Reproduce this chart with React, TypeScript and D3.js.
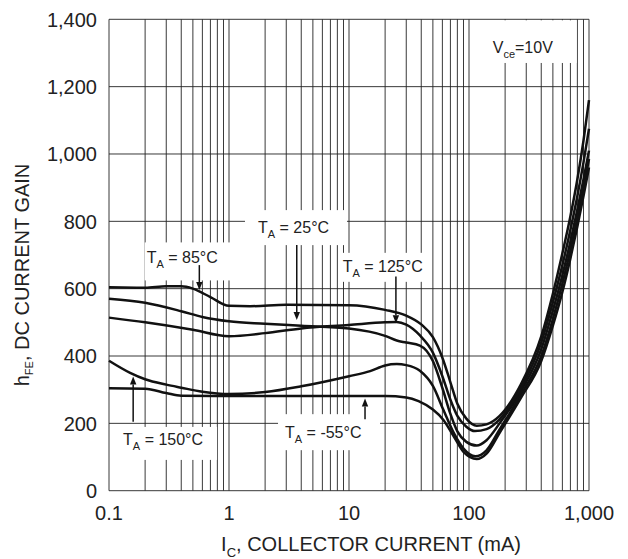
import * as d3 from 'd3';

type Pt = [number, number]; // [collector current mA, hFE]

const xTickValues = [0.1, 1, 10, 100, 1000];
const yTickValues = [0, 200, 400, 600, 800, 1000, 1200, 1400];

// T_A = 85°C
const gain85: Pt[] = [
  [0.1, 604], [0.2, 603], [0.3, 607], [0.4, 607], [0.5, 600], [0.7, 575], [1, 549], [1.5, 548],
  [3, 552], [10, 551], [20, 537], [30, 520], [40, 494], [50, 456], [60, 395], [70, 322], [80, 258],
  [95, 214], [116, 193], [140, 197], [180, 222], [270, 315], [400, 458], [500, 585], [600, 705],
  [700, 815], [800, 925], [900, 1040], [1000, 1160],
];
// T_A = 25°C
const gain25: Pt[] = [
  [0.1, 570], [0.2, 558], [0.4, 533], [0.6, 516], [1, 503], [2, 496], [4, 490], [10, 482],
  [20, 460], [25, 446], [30, 440], [39, 431], [50, 385], [60, 305], [70, 228], [80, 176],
  [95, 145], [116, 134], [140, 150], [180, 200], [270, 295], [400, 420], [500, 535], [600, 640],
  [700, 740], [800, 835], [900, 925], [1000, 1010],
];
// T_A = 125°C
const gain125: Pt[] = [
  [0.1, 514], [0.2, 500], [0.5, 478], [1, 459], [2, 468], [4, 482], [10, 492], [20, 500],
  [25, 501], [30, 493], [39, 461], [50, 410], [60, 340], [70, 270], [80, 222], [95, 190],
  [112, 177], [140, 183], [180, 212], [270, 305], [400, 440], [500, 560], [600, 670], [700, 775],
  [800, 875], [900, 975], [1000, 1075],
];
// T_A = 150°C
const gain150: Pt[] = [
  [0.1, 386], [0.15, 350], [0.2, 331], [0.3, 315], [0.4, 306], [0.6, 294], [1, 287], [2, 293],
  [4, 310], [10, 340], [15, 355], [20, 372], [25, 376], [30, 373], [39, 356], [50, 311], [61, 241],
  [75, 170], [90, 125], [113, 102], [140, 120], [180, 182], [270, 285], [400, 400], [500, 510],
  [600, 615], [700, 715], [800, 810], [900, 900], [1000, 985],
];
// T_A = -55°C
const gainMinus55: Pt[] = [
  [0.1, 304], [0.2, 303], [0.3, 290], [0.4, 282], [1, 281], [3, 281], [10, 281], [20, 281],
  [30, 277], [38, 266], [50, 241], [61, 211], [75, 160], [90, 115], [116, 94], [140, 110],
  [180, 172], [270, 275], [400, 385], [500, 490], [600, 590], [700, 690], [800, 785], [900, 875],
  [1000, 960],
];

const series = [gain85, gain25, gain125, gain150, gainMinus55];

// temperature callouts: label anchor and arrow in data units
const callouts = [
  { temp: '85°C', at: [0.206, 675] as Pt, arrowX: 0.566, arrowFrom: 670, arrowTo: 596 },
  { temp: '25°C', at: [1.744, 765] as Pt, arrowX: 3.67, arrowFrom: 730, arrowTo: 507 },
  { temp: '125°C', at: [8.86, 650] as Pt, arrowX: 24.6, arrowFrom: 636, arrowTo: 497 },
  { temp: '150°C', at: [0.131, 136] as Pt, arrowX: 0.159, arrowFrom: 205, arrowTo: 339 },
  { temp: '-55°C', at: [2.93, 156] as Pt, arrowX: 13.6, arrowFrom: 212, arrowTo: 274 },
];
// white boxes behind callouts [dx, dy, w, h] relative to text anchor
const calloutBoxes = [
  [-2, -21, 87, 38],
  [-13, -23, 102, 35],
  [-3, -19, 84, 29],
  [-5, -18, 99, 33],
  [-7, -24, 102, 36],
];
const vceAt: Pt = [157.6, 1300];

const W = 628;
const H = 559;
const PLOT = { left: 109, right: 589, top: 19.3, bottom: 490.7 };
const FONT = "'Liberation Sans', Arial, Helvetica, sans-serif";

export default function App() {
  const x = d3.scaleLog().domain([0.1, 1000]).range([PLOT.left, PLOT.right]);
  const y = d3.scaleLinear().domain([0, 1400]).range([PLOT.bottom, PLOT.top]);
  const fmt = d3.format(',');

  const line = d3.line<Pt>()
    .x((d) => x(d[0]))
    .y((d) => y(d[1]))
    .curve(d3.curveMonotoneX);

  const gridX = x.ticks();

  return (
    <svg
      width={W}
      height={H}
      style={{ position: 'absolute', left: 0, top: 0, background: '#fff' }}
      fontFamily={FONT}
    >
      <rect width={W} height={H} fill="#fff" />

      {/* grid */}
      <g stroke="#222" strokeWidth={0.9}>
        {gridX.map((v) => (
          <line key={'gx' + v} x1={x(v)} x2={x(v)} y1={y(0)} y2={y(1400)} />
        ))}
        {yTickValues.map((v) => (
          <line key={'gy' + v} x1={x(0.1)} x2={x(1000)} y1={y(v)} y2={y(v)} />
        ))}
      </g>

      {/* label boxes */}
      {callouts.map((c, i) => {
        const [dx, dy, w, h] = calloutBoxes[i];
        return (
          <rect key={'b' + i} x={x(c.at[0]) + dx} y={y(c.at[1]) + dy} width={w} height={h} fill="#fff" />
        );
      })}
      <rect x={x(vceAt[0]) - 18} y={y(1400) + 1} width={102} height={y(vceAt[1]) + 10 - y(1400) - 1} fill="#fff" />

      {/* curves */}
      <g fill="none" stroke="#111" strokeWidth={2.5} strokeLinejoin="round">
        {series.map((s, i) => (
          <path key={'s' + i} d={line(s) ?? ''} />
        ))}
      </g>

      {/* arrows */}
      {callouts.map((c, i) => {
        const ax = x(c.arrowX);
        const y0 = y(c.arrowFrom);
        const y1 = y(c.arrowTo);
        const dir = y1 > y0 ? 1 : -1;
        const head = 8;
        return (
          <g key={'a' + i}>
            <line x1={ax} x2={ax} y1={y0} y2={y1 - dir * head} stroke="#111" strokeWidth={1.5} />
            <path
              d={`M${ax},${y1} L${ax - 3.2},${y1 - dir * head} L${ax + 3.2},${y1 - dir * head} Z`}
              fill="#111"
            />
          </g>
        );
      })}

      {/* callout text */}
      {callouts.map((c, i) => (
        <text key={'t' + i} x={x(c.at[0])} y={y(c.at[1])} fontSize={16} fill="#222">
          T<tspan fontSize={11} dy={5}>A</tspan>
          <tspan dy={-5}> = {c.temp}</tspan>
        </text>
      ))}
      <text x={x(vceAt[0])} y={y(vceAt[1])} fontSize={16} fill="#222">
        V<tspan fontSize={11} dy={5}>ce</tspan>
        <tspan dy={-5}>=10V</tspan>
      </text>

      {/* y tick labels */}
      {yTickValues.map((v) => (
        <text key={'yl' + v} x={PLOT.left - 12} y={y(v)} dy="0.36em" textAnchor="end" fontSize={20} fill="#222">
          {fmt(v)}
        </text>
      ))}
      {/* x tick labels */}
      {xTickValues.map((v) => (
        <text key={'xl' + v} x={x(v)} y={PLOT.bottom + 29} textAnchor="middle" fontSize={20} fill="#222">
          {fmt(v)}
        </text>
      ))}

      {/* axis titles */}
      <text x={371} y={551} textAnchor="middle" fontSize={20} fill="#222">
        I<tspan fontSize={13} dy={6}>C</tspan>
        <tspan dy={-6}>, COLLECTOR CURRENT (mA)</tspan>
      </text>
      <text transform="translate(29,275) rotate(-90)" textAnchor="middle" fontSize={20} fill="#222">
        h<tspan fontSize={11} dy={4}>FE</tspan>
        <tspan dy={-4}>, DC CURRENT GAIN</tspan>
      </text>
    </svg>
  );
}
